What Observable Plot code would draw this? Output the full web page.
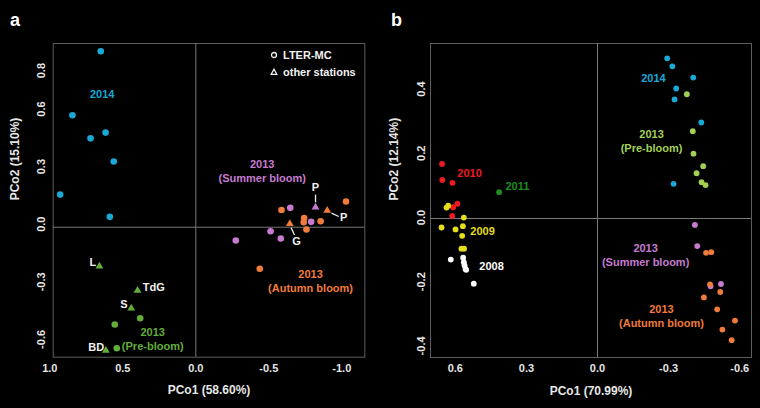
<!DOCTYPE html>
<html>
<head>
<meta charset="utf-8">
<script src="https://cdn.jsdelivr.net/npm/d3@7"></script>
<script src="https://cdn.jsdelivr.net/npm/@observablehq/plot@0.6"></script>
<style>
  html, body { margin: 0; padding: 0; background: #000; }
  #wrap { position: relative; width: 760px; height: 408px; background: #000; display: flex;
          font-family: "Liberation Sans", Arial, sans-serif; }
  .panel { position: relative; width: 380px; height: 408px; }
  .panel svg { display: block; }
  .letter { position: absolute; color: #fff; font-weight: bold; font-size: 18px; line-height: 1; }
  .leg { position: absolute; height: 14px; display: flex; align-items: center; color: #f2f2f2;
         font-weight: bold; font-size: 11px; white-space: nowrap; }
  .leg svg { margin-right: 4px; }
</style>
</head>
<body>
<div id="wrap">
  <div class="panel" id="pa">
    <div class="letter" style="left:10px;top:11px">a</div>
    <div class="leg" style="left:269px;top:48px"><svg width="10" height="10"><circle cx="5" cy="5" r="2.5" fill="none" stroke="#f2f2f2" stroke-width="1.3"/></svg><span>LTER-MC</span></div>
    <div class="leg" style="left:269px;top:65px"><svg width="10" height="10"><path d="M5,2.2 L7.8,7.3 L2.2,7.3 Z" fill="none" stroke="#f2f2f2" stroke-width="1.3"/></svg><span>other stations</span></div>
  </div>
  <div class="panel" id="pb">
    <div class="letter" style="left:11px;top:11px">b</div>
  </div>
</div>
<script>
// ---------------- Panel a data (PCo1, PCo2) ----------------
const aXTicks = [1.0, 0.5, 0.0, -0.5, -1.0];
const aYTicks = [-0.6, -0.3, 0.0, 0.3, 0.6, 0.8];
const aXLabel = "PCo1 (58.60%)";
const aYLabel = "PCo2 (15.10%)";

const a2014 = [[0.651, 0.917], [0.845, 0.583], [0.721, 0.463], [0.618, 0.493], [0.562, 0.342], [0.929, 0.170], [0.589, 0.054]];
const aPreBloomLTER = [[0.381, -0.474], [0.555, -0.507], [0.541, -0.630]];
const aPreBloomStations = [[0.660, -0.203], [0.399, -0.330], [0.442, -0.422], [0.616, -0.642]];
const aSummerLTER = [[-0.647, 0.101], [-0.790, 0.028], [-0.512, -0.021], [-0.582, -0.059], [-0.274, -0.069]];
const aSummerStations = [[-0.820, 0.104]];
const aAutumnLTER = [[-0.587, 0.090], [-1.029, 0.134], [-0.742, 0.048], [-0.739, 0.026], [-0.855, 0.031], [-0.758, -0.012], [-0.438, -0.216]];
const aAutumnStations = [[-0.900, 0.087], [-0.644, 0.018]];

// station names and their label anchors
const aStationNames = ["L", "TdG", "S", "BD", "P", "P", "G"];
const aStationLabelX = [0.705, 0.288, 0.493, 0.682, -0.820, -1.012, -0.690];
const aStationLabelY = [-0.182, -0.3125, -0.403, -0.627, 0.208, 0.049, -0.074];
// leader lines [x1, y1, x2, y2]
const aLeaders = [[-0.820, 0.130, -0.820, 0.170], [-0.929, 0.073, -0.979, 0.056], [-0.653, -0.003, -0.676, -0.040]];

const aGroupNames = ["2014", "2013\n(Summer bloom)", "2013\n(Autumn bloom)", "2013\n(Pre-bloom)"];
const aGroupX = [0.641, -0.455, -0.786, 0.295];
const aGroupY = [0.698, 0.297, -0.279, -0.581];

// ---------------- Panel b data ----------------
const bXTicks = [0.6, 0.3, 0.0, -0.3, -0.6];
const bYTicks = [-0.4, -0.2, 0.0, 0.2, 0.4];
const bXLabel = "PCo1 (70.99%)";
const bYLabel = "PCo2 (12.14%)";

const b2014 = [[-0.294, 0.499], [-0.316, 0.474], [-0.404, 0.439], [-0.332, 0.405], [-0.325, 0.371], [-0.438, 0.299], [-0.321, 0.108]];
const bPreBloom = [[-0.377, 0.387], [-0.402, 0.272], [-0.405, 0.202], [-0.446, 0.163], [-0.418, 0.141], [-0.439, 0.113], [-0.456, 0.104]];
const b2010 = [[0.656, 0.170], [0.655, 0.120], [0.612, 0.111], [0.591, 0.046], [0.609, 0.035], [0.613, 0.008]];
const b2011 = [[0.415, 0.082]];
const b2009 = [[0.630, 0.040], [0.637, 0.034], [0.564, 0.003], [0.658, -0.028], [0.599, -0.034], [0.568, -0.024], [0.571, -0.054], [0.574, -0.094], [0.563, -0.094]];
const b2008 = [[0.619, -0.128], [0.567, -0.122], [0.564, -0.136], [0.561, -0.146], [0.557, -0.157], [0.554, -0.160], [0.522, -0.203]];
const bSummer = [[-0.411, -0.020], [-0.421, -0.086], [-0.521, -0.204], [-0.477, -0.211]];
const bAutumn = [[-0.458, -0.107], [-0.480, -0.105], [-0.475, -0.205], [-0.518, -0.229], [-0.449, -0.246], [-0.505, -0.283], [-0.580, -0.318], [-0.527, -0.346], [-0.566, -0.379]];

const bGroupNames = ["2014", "2013\n(Pre-bloom)", "2010", "2011", "2009", "2008", "2013\n(Summer bloom)", "2013\n(Autumn bloom)"];
const bGroupX = [-0.236, -0.228, 0.540, 0.338, 0.485, 0.447, -0.203, -0.270];
const bGroupY = [0.439, 0.243, 0.143, 0.103, -0.037, -0.146, -0.112, -0.302];

// ---------------- styles ----------------
const FONT = "'Liberation Sans', Arial, sans-serif";
const INK = "#e6e6e6";
const FRAME = "#5e5e5e";
const ZERO = "#777777";
const col = {
  blue: "#1aa8d6", greenA: "#62ad3a", greenB: "#a3cf55", summer: "#c77bd0", autumn: "#f07b3a",
  red: "#ee1c22", dkgreen: "#1f8c1f", yellow: "#e4df18", white: "#ffffff"
};
const fmt = d => d.toFixed(1);
const X = d => d[0], Y = d => d[1];

function frameMarks(o) {
  return [
    Plot.frame({stroke: FRAME, strokeWidth: 1}),
    Plot.ruleX([0], {stroke: ZERO, strokeWidth: 1}),
    Plot.ruleY([0], {stroke: ZERO, strokeWidth: 1}),
    Plot.axisX(o.xTicks, {tickSize: 0, tickPadding: 7, tickFormat: fmt, fill: INK, fontSize: 11, label: null}),
    Plot.axisY(o.yTicks, {tickSize: 0, tickRotate: -90, tickPadding: o.yPad, tickFormat: fmt, fill: INK, fontSize: 11, label: null, dy: o.yDy}),
    Plot.text([o.xLabel], {text: d => d, frameAnchor: "bottom", dy: 37, lineAnchor: "bottom", fontSize: 12, fill: INK}),
    Plot.text([o.yLabel], {text: d => d, frameAnchor: "left", rotate: -90, dx: -o.yLabelOff, lineAnchor: "top", fontSize: 12, fill: INK})
  ];
}

const baseStyle = {background: "transparent", color: INK, fontFamily: FONT, fontSize: "11px", fontWeight: "bold"};

// ---------------- Panel a ----------------
const aStations = aStationNames.map((t, i) => ({t, x: aStationLabelX[i], y: aStationLabelY[i]}));
const aGroups = aGroupNames.map((t, i) => ({t, x: aGroupX[i], y: aGroupY[i]}));
const aGroupCols = [col.blue, col.summer, col.autumn, col.greenA];

const plotA = Plot.plot({
  width: 380, height: 408,
  marginLeft: 52.7, marginRight: 15.7, marginTop: 43, marginBottom: 51.3,
  style: baseStyle,
  x: {domain: [0.9767, -1.1575], range: [52.7, 364.3]},
  y: {domain: [-0.677, 0.957], range: [356.7, 43]},
  marks: [
    ...frameMarks({xTicks: aXTicks, yTicks: aYTicks, xLabel: aXLabel, yLabel: aYLabel, yPad: 8, yDy: -3, yLabelOff: 42.5}),
    Plot.link(aLeaders, {x1: d => d[0], y1: d => d[1], x2: d => d[2], y2: d => d[3], stroke: "#f0f0f0", strokeWidth: 1.3}),
    Plot.dot(a2014, {x: X, y: Y, r: 3.3, fill: col.blue}),
    Plot.dot(aPreBloomLTER, {x: X, y: Y, r: 3.3, fill: col.greenA}),
    Plot.dot(aPreBloomStations, {x: X, y: Y, r: 2.9, symbol: "triangle", fill: col.greenA}),
    Plot.dot(aSummerLTER, {x: X, y: Y, r: 3.3, fill: col.summer}),
    Plot.dot(aSummerStations, {x: X, y: Y, r: 2.9, symbol: "triangle", fill: col.summer}),
    Plot.dot(aAutumnLTER, {x: X, y: Y, r: 3.3, fill: col.autumn}),
    Plot.dot(aAutumnStations, {x: X, y: Y, r: 2.9, symbol: "triangle", fill: col.autumn}),
    Plot.text(aStations, {x: "x", y: "y", text: "t", fill: "#f0f0f0", fontSize: 11}),
    Plot.text(aGroups, {x: "x", y: "y", text: "t", fill: (d, i) => aGroupCols[i], fontSize: 11, lineHeight: 1.27})
  ]
});
document.getElementById("pa").appendChild(plotA);

// ---------------- Panel b ----------------
const bGroups = bGroupNames.map((t, i) => ({t, x: bGroupX[i], y: bGroupY[i]}));
const bGroupCols = [col.blue, col.greenB, col.red, col.dkgreen, col.yellow, col.white, col.summer, col.autumn];

const plotB = Plot.plot({
  width: 380, height: 408,
  marginLeft: 50, marginRight: 9, marginTop: 43, marginBottom: 51,
  style: baseStyle,
  x: {domain: [0.6, -0.6], range: [74.8, 359.2]},
  y: {domain: [-0.4, 0.4], range: [346.4, 89.6]},
  marks: [
    ...frameMarks({xTicks: bXTicks, yTicks: bYTicks, xLabel: bXLabel, yLabel: bYLabel, yPad: 6, yDy: -1, yLabelOff: 41}),
    Plot.dot(b2014, {x: X, y: Y, r: 2.9, fill: col.blue}),
    Plot.dot(bPreBloom, {x: X, y: Y, r: 2.9, fill: col.greenB}),
    Plot.dot(b2010, {x: X, y: Y, r: 2.9, fill: col.red}),
    Plot.dot(b2011, {x: X, y: Y, r: 2.9, fill: col.dkgreen}),
    Plot.dot(b2009, {x: X, y: Y, r: 2.9, fill: col.yellow}),
    Plot.dot(b2008, {x: X, y: Y, r: 2.9, fill: col.white}),
    Plot.dot(bSummer, {x: X, y: Y, r: 2.9, fill: col.summer}),
    Plot.dot(bAutumn, {x: X, y: Y, r: 2.9, fill: col.autumn}),
    Plot.text(bGroups, {x: "x", y: "y", text: "t", fill: (d, i) => bGroupCols[i], fontSize: 11, lineHeight: 1.27})
  ]
});
document.getElementById("pb").appendChild(plotB);
</script>
</body>
</html>
